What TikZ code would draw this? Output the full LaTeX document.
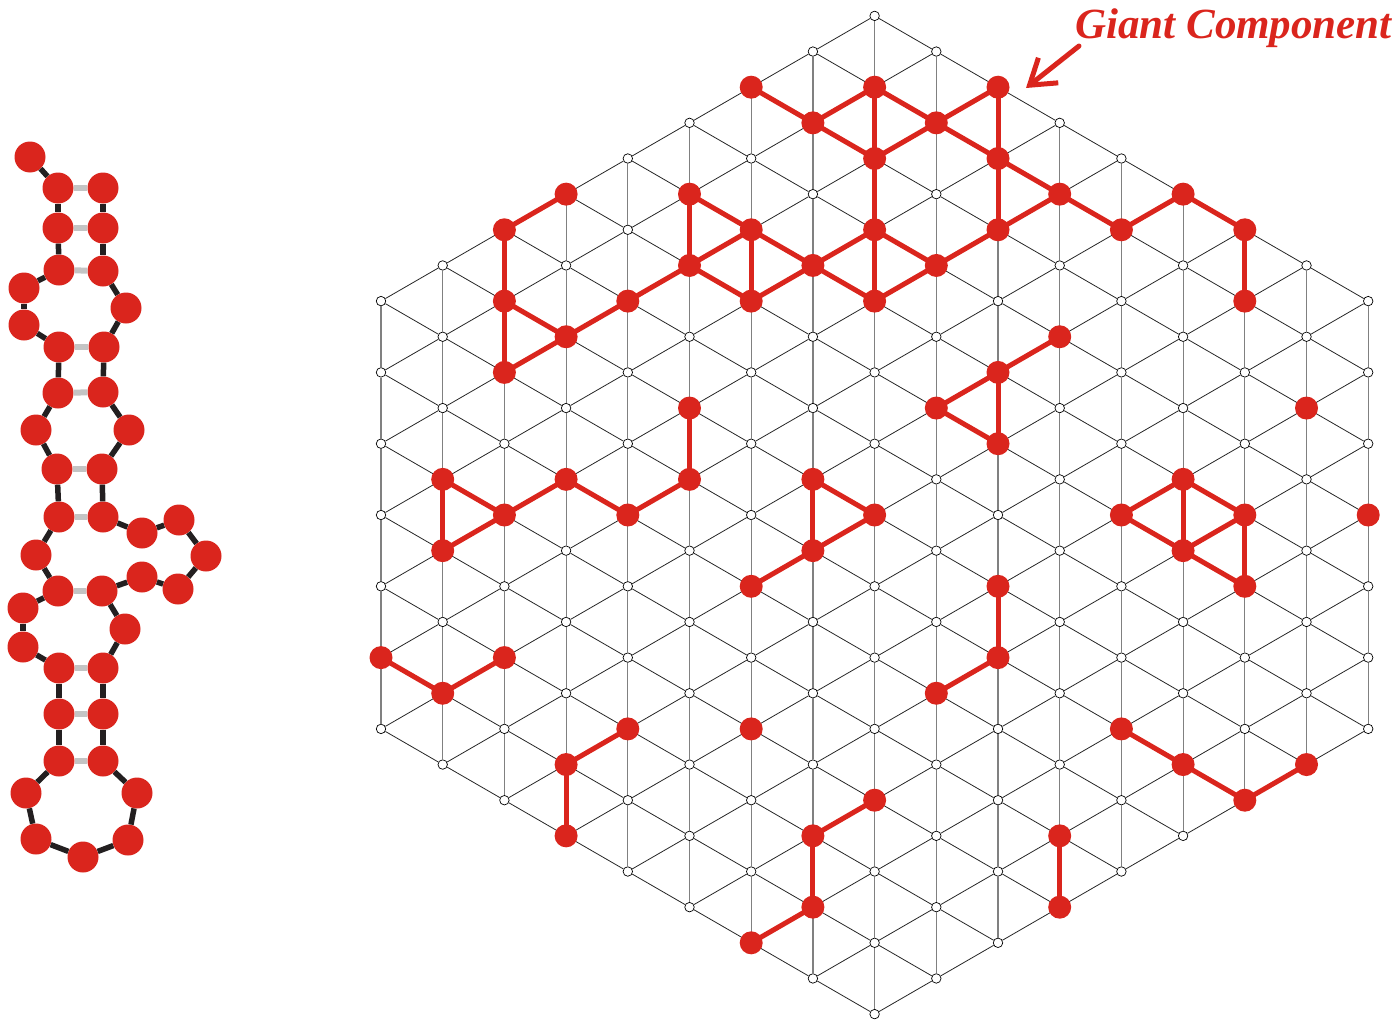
\documentclass[tikz,border=0pt]{standalone}
\usepackage{fontspec}
\setmainfont{Liberation Serif}
\usetikzlibrary{arrows.meta}
\definecolor{nred}{HTML}{DA251D}
\definecolor{bondblack}{HTML}{231F20}
\definecolor{runggray}{HTML}{C4C4C4}
\begin{document}
\begin{tikzpicture}[x=1pt,y=-1pt,
  wdot/.style={circle,draw=black,fill=white,line width=0.7pt,inner sep=0pt,minimum size=9.5pt},
  rdot/.style={circle,fill=nred,inner sep=0pt,minimum size=23pt},
  mdot/.style={circle,fill=nred,inner sep=0pt,minimum size=31pt},
  diag/.style={draw=black!85,line width=0.8pt},
  vert/.style={draw=black!50,line width=1.2pt},
  redge/.style={draw=nred,line width=5pt},
  bond/.style={draw=bondblack,line width=5.5pt},
  rung/.style={draw=runggray,line width=6pt},
  gclabel/.style={text=nred,font=\fontsize{43}{48}\selectfont\bfseries\itshape,inner sep=0pt,anchor=base west}
]
\useasboundingbox (0,0) rectangle (1399,1022);

% ---------- lattice vertices ----------
\foreach \k in {0,...,16}{
  \pgfmathtruncatemacro{\Kn}{min(\k,16-\k)+6}
  \pgfmathtruncatemacro{\Klo}{20-\Kn}
  \pgfmathtruncatemacro{\Klos}{22-\Kn}
  \pgfmathtruncatemacro{\Khi}{20+\Kn}
  \foreach \m in {\Klo,\Klos,...,\Khi}{
    \node[wdot] (v\k-\m) at ({381+61.7*\k},{515+35.65*(\m-20)}) {};
  }
}
% ---------- vertical lattice edges ----------
\foreach \k in {0,...,16}{
  \pgfmathtruncatemacro{\Kn}{min(\k,16-\k)+6}
  \pgfmathtruncatemacro{\Klo}{20-\Kn}
  \pgfmathtruncatemacro{\Klos}{22-\Kn}
  \pgfmathtruncatemacro{\Khm}{18+\Kn}
  \foreach \m in {\Klo,\Klos,...,\Khm}{
    \pgfmathtruncatemacro{\Kmm}{\m+2}
    \draw[vert] (v\k-\m) -- (v\k-\Kmm);
  }
}
% ---------- diagonal lattice edges ----------
\foreach \k in {0,...,15}{
  \pgfmathtruncatemacro{\Kn}{min(\k,16-\k)+6}
  \pgfmathtruncatemacro{\Kkk}{\k+1}
  \pgfmathtruncatemacro{\Knn}{min(\Kkk,16-\Kkk)+6}
  \pgfmathtruncatemacro{\Klo}{20-\Kn}
  \pgfmathtruncatemacro{\Klos}{22-\Kn}
  \pgfmathtruncatemacro{\Khi}{20+\Kn}
  \pgfmathtruncatemacro{\Kul}{20-\Knn}
  \pgfmathtruncatemacro{\Kdl}{20+\Knn}
  \foreach \m in {\Klo,\Klos,...,\Khi}{
    \pgfmathtruncatemacro{\Kup}{\m-1}
    \pgfmathtruncatemacro{\Kdn}{\m+1}
    \ifnum\Kup<\Kul\relax\else \draw[diag] (v\k-\m) -- (v\Kkk-\Kup);\fi
    \ifnum\Kdn>\Kdl\relax\else \draw[diag] (v\k-\m) -- (v\Kkk-\Kdn);\fi
  }
}

% ---------- red edges on lattice ----------
\foreach \a/\b/\c/\d in {
  6/8/7/9, 7/9/8/8, 8/8/9/9, 9/9/10/8, 8/8/8/10, 7/9/8/10, 8/10/9/9, 9/9/10/10,
  10/8/10/10, 10/10/11/11, 11/11/12/12, 12/12/13/11, 13/11/14/12, 14/12/14/14,
  10/10/10/12, 11/11/10/12, 8/10/8/12, 8/12/8/14, 10/12/9/13, 9/13/8/14, 8/12/9/13,
  7/13/8/12, 7/13/8/14, 6/12/7/13, 6/14/7/13, 6/12/6/14, 5/11/6/12, 5/11/5/13,
  5/13/6/12, 5/13/6/14, 4/14/5/13, 3/15/4/14, 2/14/3/15, 2/16/3/15, 2/14/2/16,
  2/12/2/14, 2/12/3/11,
  11/15/10/16, 10/16/9/17, 9/17/10/18, 10/16/10/18,
  5/17/5/19, 5/19/4/20, 4/20/3/19, 3/19/2/20, 2/20/1/19, 1/19/1/21, 1/21/2/20,
  7/19/8/20, 7/19/7/21, 8/20/7/21, 7/21/6/22,
  12/20/13/19, 13/19/14/20, 12/20/13/21, 13/19/13/21, 13/21/14/20, 14/20/14/22, 13/21/14/22,
  10/22/10/24, 10/24/9/25,
  0/24/1/25, 1/25/2/24,
  4/26/3/27, 3/27/3/29,
  8/28/7/29, 7/29/7/31, 7/31/6/32,
  11/29/11/31,
  12/26/13/27, 13/27/14/28, 14/28/15/27}
  \draw[redge] (v\a-\b) -- (v\c-\d);

% ---------- red lattice nodes ----------
\foreach \a/\b in {
  6/8, 7/9, 8/8, 9/9, 10/8, 8/10, 10/10, 11/11, 12/12, 13/11, 14/12, 14/14,
  3/11, 2/12, 5/11, 6/12, 8/12, 10/12, 5/13, 7/13, 9/13, 2/14, 4/14, 6/14, 8/14,
  3/15, 2/16,
  11/15, 10/16, 9/17, 10/18,
  5/17, 5/19, 4/20, 3/19, 2/20, 1/19, 1/21,
  7/19, 8/20, 7/21, 6/22,
  15/17, 16/20,
  12/20, 13/19, 14/20, 13/21, 14/22,
  10/22, 10/24, 9/25,
  0/24, 1/25, 2/24,
  4/26, 3/27, 3/29,
  6/26,
  8/28, 7/29, 7/31, 6/32,
  11/29, 11/31,
  12/26, 13/27, 14/28, 15/27}
  \node[rdot] (r\a-\b) at (v\a-\b) {};

% ---------- label and arrow ----------
\node[gclabel] (gc) at (1075,39) {Giant Component};
\coordinate (gcs) at (1079,46);
\coordinate (gce) at (1026,88);
\draw[nred,line width=5pt,line cap=round,-{Straight Barb[length=24pt,width=32pt]}] (gcs) -- (gce);

% ---------- molecule (left) ----------
\foreach \i/\x/\y in {
  1/30/157, 2/58/188, 3/103/188, 4/58/228, 5/103/228, 6/59/270, 7/103/271,
  8/24/288, 9/126/308, 10/24/325, 11/59/347, 12/104/347, 13/58/393, 14/103/392,
  15/36/430, 16/129/430, 17/57/469, 18/102/469, 19/59/517, 20/103/517,
  21/142/533, 22/179/520, 23/206/556, 24/178/589, 25/142/577,
  26/36/555, 27/58/591, 28/102/591, 29/23/608, 30/125/629, 31/23/647,
  32/59/668, 33/103/668, 34/59/714, 35/103/714, 36/59/761, 37/103/761,
  38/26/793, 39/137/793, 40/36/839, 41/128/840, 42/83/857}
  \node[mdot] (m\i) at (\x,\y) {};

\foreach \a/\b in {1/2, 2/4, 3/5, 4/6, 5/7, 6/8, 8/10, 10/11, 7/9, 9/12, 11/13, 12/14,
  13/15, 14/16, 15/17, 16/18, 17/19, 18/20, 19/26, 20/21, 21/22, 22/23, 23/24,
  24/25, 25/28, 26/27, 27/29, 29/31, 31/32, 28/30, 30/33, 32/34, 33/35, 34/36,
  35/37, 36/38, 37/39, 38/40, 40/42, 42/41, 41/39}
  \draw[bond] (m\a) -- (m\b);

\foreach \a/\b in {2/3, 4/5, 6/7, 11/12, 13/14, 17/18, 19/20, 27/28, 32/33, 34/35, 36/37}
  \draw[rung] (m\a) -- (m\b);
\end{tikzpicture}
\end{document}
